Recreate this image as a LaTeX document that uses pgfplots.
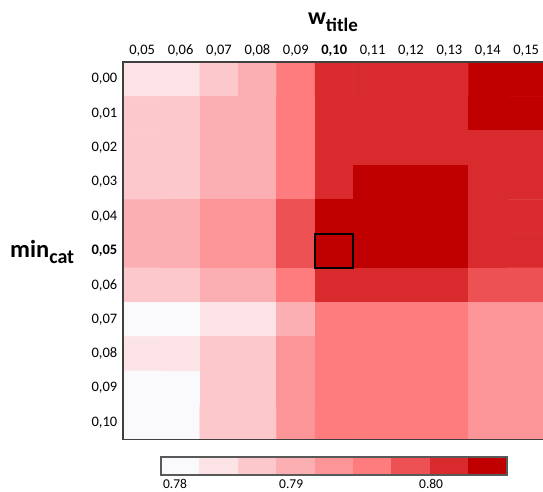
\documentclass[border=0pt]{standalone}
\usepackage{fontspec}
\setmainfont{Carlito}
\usepackage{pgfplots}
\pgfplotsset{compat=1.18}
\pgfplotsset{
  colormap={heat}{rgb255=(250,250,252) rgb255=(252,227,229) rgb255=(252,200,203)
    rgb255=(251,175,178) rgb255=(252,149,152) rgb255=(254,123,126)
    rgb255=(238,81,84) rgb255=(217,43,45) rgb255=(192,0,0)},
}
\begin{document}
\begin{tikzpicture}
\useasboundingbox (-123pt,62pt) rectangle (420pt,-430pt);
\begin{axis}[
  at={(0pt,0pt)}, anchor=north west,
  scale only axis, width=422.4pt, height=377.5pt,
  xmin=-0.5, xmax=10.5, ymin=-0.5, ymax=10.5,
  y dir=reverse,
  enlargelimits=false,
  axis on top,
  axis line style={draw=black!75, line width=1.3pt},
  xtick={0,...,10}, ytick={0,...,10},
  xticklabels={{0,05},{0,06},{0,07},{0,08},{0,09},{\textbf{0,10}},{0,11},{0,12},{0,13},{0,14},{0,15}},
  yticklabels={{0,00},{0,01},{0,02},{0,03},{0,04},{\textbf{0,05}},{0,06},{0,07},{0,08},{0,09},{0,10}},
  xticklabel pos=upper,
  major tick length=0pt,
  tick label style={font=\fontsize{14.5}{17}\selectfont, text=black},
  xticklabel style={inner sep=0pt, yshift=5pt},
  yticklabel style={inner sep=0pt, xshift=-5.5pt},
  /pgf/number format/assume math mode=true,
  colormap name=heat,
  colormap access=direct,
]
\addplot[matrix plot*, mesh/cols=11, point meta=explicit] table[meta=c] {
x y c
0 0 1
1 0 1
2 0 2
3 0 3
4 0 5
5 0 7
6 0 7
7 0 7
8 0 7
9 0 8
10 0 8
0 1 2
1 1 2
2 1 3
3 1 3
4 1 5
5 1 7
6 1 7
7 1 7
8 1 7
9 1 8
10 1 8
0 2 2
1 2 2
2 2 3
3 2 3
4 2 5
5 2 7
6 2 7
7 2 7
8 2 7
9 2 7
10 2 7
0 3 2
1 3 2
2 3 3
3 3 3
4 3 5
5 3 7
6 3 8
7 3 8
8 3 8
9 3 7
10 3 7
0 4 3
1 4 3
2 4 4
3 4 4
4 4 6
5 4 8
6 4 8
7 4 8
8 4 8
9 4 7
10 4 7
0 5 3
1 5 3
2 5 4
3 5 4
4 5 6
5 5 8
6 5 8
7 5 8
8 5 8
9 5 7
10 5 7
0 6 2
1 6 2
2 6 3
3 6 3
4 6 5
5 6 7
6 6 7
7 6 7
8 6 7
9 6 6
10 6 6
0 7 0
1 7 0
2 7 1
3 7 1
4 7 3
5 7 5
6 7 5
7 7 5
8 7 5
9 7 4
10 7 4
0 8 1
1 8 1
2 8 2
3 8 2
4 8 4
5 8 5
6 8 5
7 8 5
8 8 5
9 8 4
10 8 4
0 9 0
1 9 0
2 9 2
3 9 2
4 9 4
5 9 5
6 9 5
7 9 5
8 9 5
9 9 4
10 9 4
0 10 0
1 10 0
2 10 2
3 10 2
4 10 4
5 10 5
6 10 5
7 10 5
8 10 5
9 10 4
10 10 4
};
\addplot[black, line width=2pt, mark=none] coordinates {(4.5,4.5) (5.5,4.5) (5.5,5.5) (4.5,5.5)} -- cycle;
\end{axis}
\begin{axis}[
  at={(38pt,-395pt)}, anchor=north west,
  scale only axis, width=346pt, height=18pt,
  xmin=-0.5, xmax=8.5, ymin=-0.5, ymax=1.5,
  enlargelimits=false,
  axis on top,
  axis line style={draw=black!65, line width=1.2pt},
  ytick=\empty,
  xtick={-0.45,2.57,6.21},
  xticklabels={0.78,0.79,0.80},
  major tick length=0pt,
  xticklabel style={anchor=north west, inner sep=0pt, yshift=-4.5pt, font=\fontsize{13.5}{16}\selectfont, text=black},
  /pgf/number format/assume math mode=true,
  colormap name=heat,
  colormap access=direct,
]
\addplot[matrix plot*, mesh/cols=9, point meta=explicit] table[meta=c] {
x y c
0 0 0
1 0 1
2 0 2
3 0 3
4 0 4
5 0 5
6 0 6
7 0 7
8 0 8
0 1 0
1 1 1
2 1 2
3 1 3
4 1 4
5 1 5
6 1 6
7 1 7
8 1 8
};
\end{axis}
\node[anchor=base, font=\bfseries\fontsize{24}{28}\selectfont, inner sep=0pt] at (210pt,37pt)
  {w\raisebox{-7pt}{\fontsize{19}{22}\selectfont title}};
\node[anchor=base west, font=\bfseries\fontsize{24.5}{28}\selectfont, inner sep=0pt] at (-113pt,-195pt)
  {min\raisebox{-6.5pt}{\fontsize{20}{22}\selectfont cat}};
\end{tikzpicture}
\end{document}
